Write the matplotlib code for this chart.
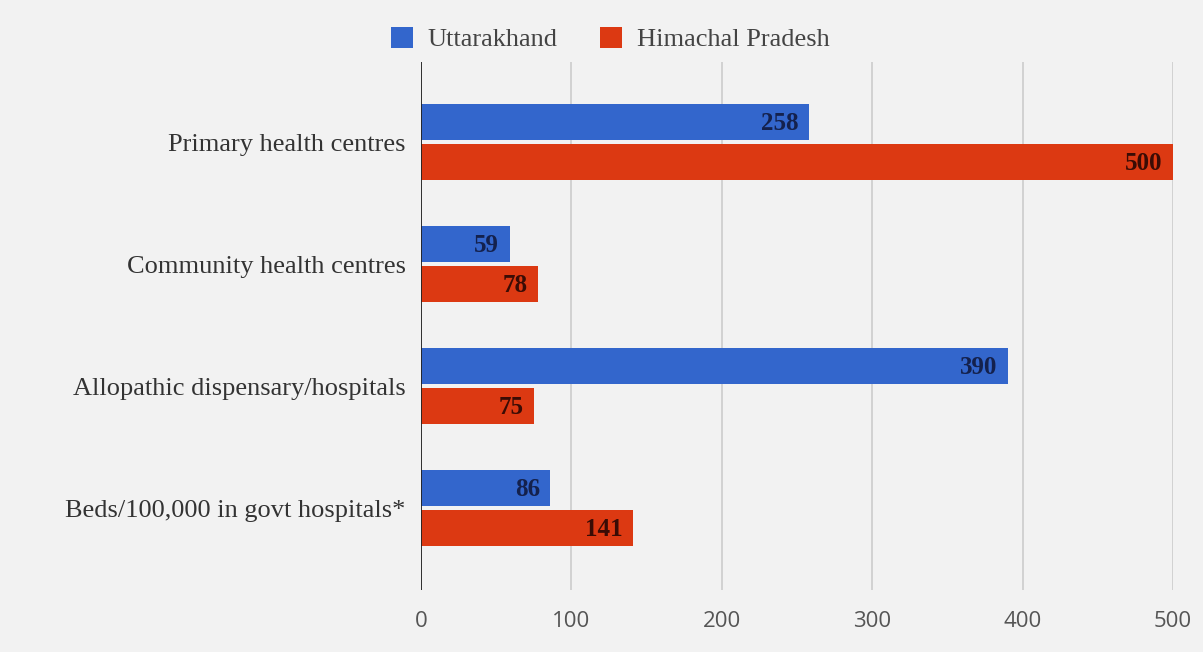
import matplotlib.pyplot as plt
import numpy as np
from matplotlib.patches import Patch

categories = ["Primary health centres", "Community health centres",
              "Allopathic dispensary/hospitals", "Beds/100,000 in govt hospitals*"]
uttarakhand = [258, 59, 390, 86]
himachal = [500, 78, 75, 141]
series_names = ["Uttarakhand", "Himachal Pradesh"]
xticks = [0, 100, 200, 300, 400, 500]

BG = "#f2f2f2"
BLUE = "#3366cc"
RED = "#dc3912"
SERIF = ["Liberation Serif", "DejaVu Serif"]

fig = plt.figure(figsize=(12.03, 6.52), dpi=100, facecolor=BG)
ax = fig.add_axes([421 / 1203, 1 - 590 / 652, (1173 - 421) / 1203, (590 - 62) / 652])
ax.set_facecolor(BG)

y = np.arange(len(categories))
h = 0.30
gap = 0.013
b1 = ax.barh(y - h / 2 - gap, uttarakhand, height=h, color=BLUE, zorder=3)
b2 = ax.barh(y + h / 2 + gap, himachal, height=h, color=RED, zorder=3)

# value labels inside the bar ends
for bars, vals, col in [(b1, uttarakhand, "#14214d"), (b2, himachal, "#3a0c05")]:
    for bar, v in zip(bars, vals):
        ax.text(v - 7, bar.get_y() + bar.get_height() / 2 + 0.01, str(v),
                ha="right", va="center", fontsize=18, fontweight="bold",
                color=col, family=SERIF, zorder=4)

ax.set_xlim(0, 500)
ax.set_ylim(3 + 0.672, -0.656)
ax.set_yticks(y)
ax.set_yticklabels(categories, family=SERIF, fontsize=19, color="#333333")
ax.set_xticks(xticks)
ax.set_xticklabels([str(t) for t in xticks], family=["Open Sans", "DejaVu Sans"],
                   fontsize=16, color="#555555")
ax.tick_params(axis="both", length=0)
ax.tick_params(axis="x", pad=15)
ax.tick_params(axis="y", pad=11)

ax.grid(axis="x", color="#cccccc", linewidth=1.2, zorder=0)
ax.axvline(0, color="#222222", linewidth=1.3, zorder=5)
for s in ax.spines.values():
    s.set_visible(False)

handles = [Patch(facecolor=BLUE), Patch(facecolor=RED)]
leg = fig.legend(handles, series_names, loc="center", bbox_to_anchor=(610 / 1203, 1 - 39 / 652),
                 ncol=2, frameon=False, handlelength=0.85, handleheight=0.85,
                 columnspacing=1.6, handletextpad=0.55,
                 prop={"family": SERIF, "size": 19})
for t in leg.get_texts():
    t.set_color("#444444")

fig.savefig("out.png", dpi=100, facecolor=BG)
